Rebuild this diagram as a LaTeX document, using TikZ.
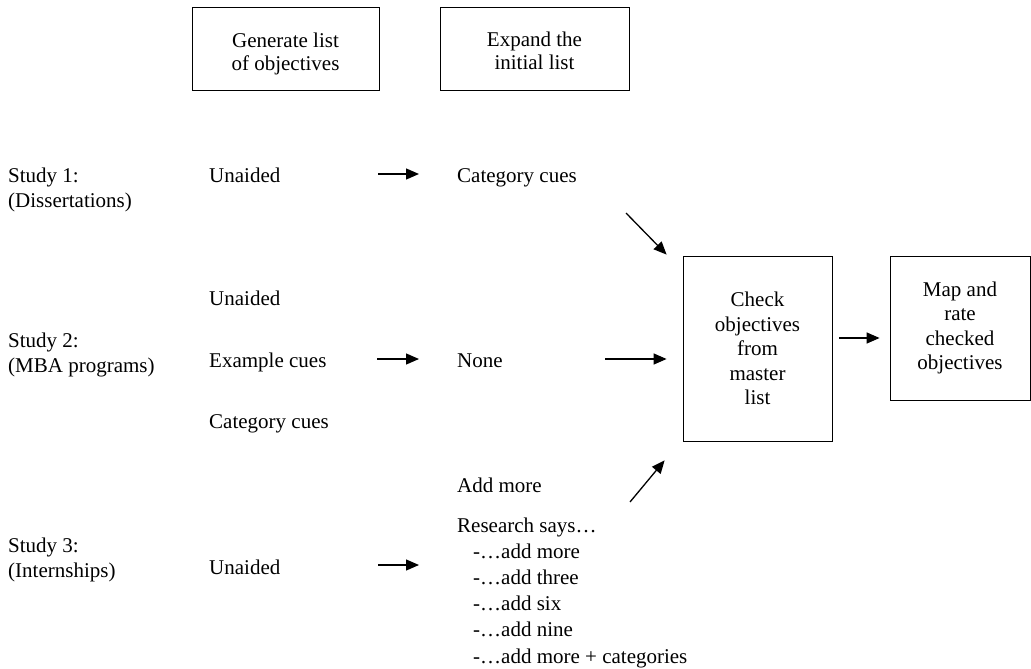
\documentclass[tikz,border=0pt]{standalone}
\usepackage{fontspec}
\setmainfont{Liberation Serif}
\usetikzlibrary{arrows.meta}
\tikzset{
  stepbox/.style={draw, line width=0.8pt, align=center, inner sep=0pt,
    font=\fontsize{21}{24.5}\selectfont},
  lbl/.style={anchor=base west, inner sep=0pt, align=left},
  arr/.style={-{Triangle[length=13pt,width=11pt]}, line width=1.3pt},
}

\begin{document}
\begin{tikzpicture}[x=1pt,y=-1pt,font=\fontsize{21}{25}\selectfont]
\useasboundingbox (0,0) rectangle (1031,669);
% column heads
\node[stepbox, font=\fontsize{21}{23}\selectfont, minimum width=187pt, minimum height=83pt] (gen) at (285.5,48.5) {\rule{0pt}{25pt}Generate list\\of objectives};
\node[stepbox, font=\fontsize{21}{23}\selectfont, minimum width=189pt, minimum height=83pt] (exp) at (534.5,48.5) {\rule{0pt}{20pt}Expand the\\initial list};
% boxes on the right
\node[stepbox, minimum width=149pt, minimum height=185pt] (chk) at (757.5,348.5) {Check\\objectives\\from\\master\\list};
\node[stepbox, minimum width=140pt, minimum height=144pt] (map) at (960,328) {Map and\\rate\\checked\\objectives};
% study 1
\node[lbl] (s1) at (8,207) {Study 1:\\(Dissertations)};
\node[lbl] (u1) at (209,182) {Unaided};
\node[lbl] (cc1) at (457,182) {Category cues};
% study 2
\node[lbl] (s2) at (8,372) {Study 2:\\(MBA programs)};
\node[lbl] (u2) at (209,305) {Unaided};
\node[lbl] (ex2) at (209,367) {Example cues};
\node[lbl] (cc2) at (209,428) {Category cues};
\node[lbl] (none) at (457,367) {None};
% study 3
\node[lbl] (s3) at (8,577) {Study 3:\\(Internships)};
\node[lbl] (u3) at (209,574) {Unaided};
\node[lbl] (add) at (457,492) {Add more};
\node[lbl, font=\fontsize{21}{26.2}\selectfont] (rs) at (457,663) {Research says…\\
  \hspace{16pt}-…add more\\
  \hspace{16pt}-…add three\\
  \hspace{16pt}-…add six\\
  \hspace{16pt}-…add nine\\
  \hspace{16pt}-…add more + categories};
\coordinate (d1) at (626,213);
\coordinate (d3) at (630,502);
\coordinate (r3) at (419,565);
% arrows
\draw[arr] ([shift={(169,-8)}]u1.base west) -- ([shift={(-38,-8)}]cc1.base west);
\draw[arr] ([shift={(168,-8)}]ex2.base west) -- ([shift={(-38,-8)}]none.base west);
\draw[arr] ([shift={(169,-9)}]u3.base west) -- (r3);
\draw[arr] (d1) -- ([shift={(-16,-1)}]chk.north west);
\draw[arr] ([shift={(148,-8)}]none.base west) -- ([shift={(-16,10.5)}]chk.west);
\draw[arr] (d3) -- ([shift={(-18,19)}]chk.south west);
\draw[arr] ([xshift=7pt]chk.east |- map.west) ++(0,10) -- ([shift={(-10,10)}]map.west);
\end{tikzpicture}
\end{document}
